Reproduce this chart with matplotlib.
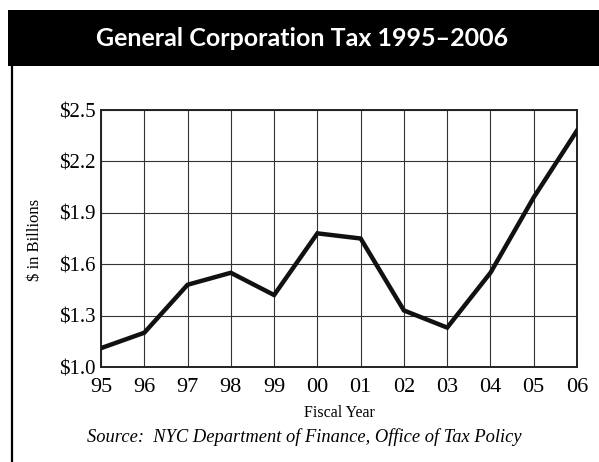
import numpy as np
import matplotlib
matplotlib.use("Agg")
import matplotlib.pyplot as plt
from matplotlib.patches import Rectangle
from matplotlib.lines import Line2D

years = ["95", "96", "97", "98", "99", "00", "01", "02", "03", "04", "05", "06"]
tax = [1.11, 1.20, 1.48, 1.55, 1.42, 1.78, 1.75, 1.33, 1.23, 1.55, 1.99, 2.38]
yticks = [1.0, 1.3, 1.6, 1.9, 2.2, 2.5]

serif = ["Liberation Serif", "DejaVu Serif"]

W, H = 599, 462
fig = plt.figure(figsize=(W / 100, H / 100), dpi=100)

# black title band + left frame line
fig.patches.append(Rectangle((8 / W, 1 - 66 / H), 1, 56 / H, transform=fig.transFigure,
                             facecolor="black", edgecolor="none"))
fig.lines.append(Line2D([11.5 / W, 11.5 / W], [0, 1 - 66 / H], transform=fig.transFigure,
                        color="black", linewidth=1.6))
fig.text(302 / W, 1 - 38 / H, "General Corporation Tax 1995\u20132006", color="white",
         fontsize=18, fontweight="bold", family=["Lato", "DejaVu Sans"],
         ha="center", va="center")

ax = fig.add_axes([101 / W, 95 / H, 476 / W, 257 / H])
x = np.arange(len(years))
ax.plot(x, tax, color="#111111", linewidth=3.2, solid_joinstyle="miter", zorder=3)

ax.set_xlim(0, len(years) - 1)
ax.set_ylim(1.0, 2.5)
ax.set_xticks(x)
ax.set_xticklabels(years, family=serif, fontsize=16)
ax.set_yticks(yticks)
ax.set_yticklabels([f"${v:.1f}" for v in yticks], family=serif, fontsize=15)
ax.tick_params(axis="x", length=0, pad=8)
ax.tick_params(axis="y", length=0, pad=4)
ax.grid(True, color="#333333", linewidth=0.8)
for s in ax.spines.values():
    s.set_linewidth(1.4)
    s.set_color("#222222")

ax.set_xlabel("Fiscal Year", family=serif, fontsize=11.5, labelpad=6)
fig.text(35 / W, 1 - 240 / H, "$ in Billions", family=serif, fontsize=12,
         rotation=90, ha="center", va="center")
fig.text(304 / W, 1 - 437 / H, "Source:  NYC Department of Finance, Office of Tax Policy",
         family=serif, style="italic", fontsize=13.3, ha="center", va="center")

fig.savefig("out.png", dpi=100)
